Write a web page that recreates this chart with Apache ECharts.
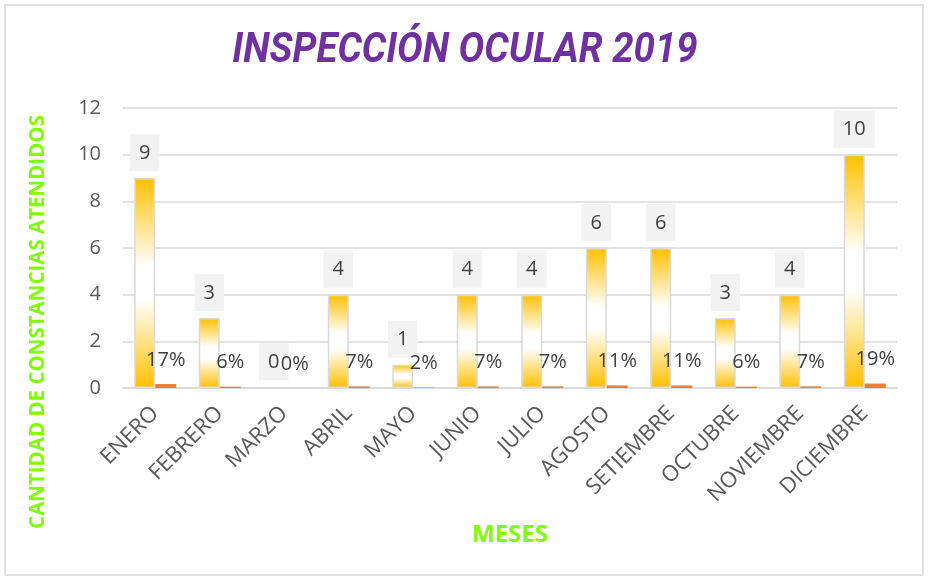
<!DOCTYPE html>
<html>
<head>
<meta charset="utf-8">
<script src="https://cdn.jsdelivr.net/npm/echarts@6/dist/echarts.min.js"></script>
<style>
  html, body { margin: 0; padding: 0; background: #fff; }
  #chart { width: 930px; height: 580px; }
</style>
</head>
<body>
<div id="chart"></div>
<script>
  var meses = ['ENERO', 'FEBRERO', 'MARZO', 'ABRIL', 'MAYO', 'JUNIO', 'JULIO',
    'AGOSTO', 'SETIEMBRE', 'OCTUBRE', 'NOVIEMBRE', 'DICIEMBRE'];
  var cantidad = [9, 3, 0, 4, 1, 4, 4, 6, 6, 3, 4, 10];
  var porcentaje = [0.17, 0.06, 0, 0.07, 0.02, 0.07, 0.07, 0.11, 0.11, 0.06, 0.07, 0.19];

  var chart = echarts.init(document.getElementById('chart'));
  chart.setOption({
    animation: false,
    textStyle: { fontFamily: 'Open Sans' },
    graphic: [
      {
        type: 'rect',
        shape: { x: 5, y: 5, width: 918, height: 570 },
        style: { fill: 'none', stroke: '#D9D9D9', lineWidth: 1.5 },
        silent: true
      },
      {
        // titulo comprimido para parecerse a Calibri
        type: 'text',
        x: 465,
        y: 51,
        scaleX: 0.915,
        style: {
          text: 'INSPECCIÓN OCULAR 2019',
          fill: '#7030A0',
          font: 'italic bold 42px Roboto',
          align: 'center',
          verticalAlign: 'middle'
        }
      },
      {
        type: 'text',
        x: 38,
        y: 322,
        rotation: Math.PI / 2,
        style: {
          text: 'CANTIDAD DE CONSTANCIAS ATENDIDOS',
          fill: '#7FFF00',
          font: 'bold 20.5px "Open Sans"',
          align: 'center',
          verticalAlign: 'middle'
        }
      }
    ],
    grid: { left: 123, right: 33, top: 108, bottom: 192 },
    xAxis: {
      type: 'category',
      data: meses,
      name: 'MESES',
      nameLocation: 'middle',
      nameGap: 135,
      nameTextStyle: { color: '#7FFF00', fontSize: 24, fontWeight: 'bold', fontFamily: 'Open Sans' },
      axisLine: { lineStyle: { color: '#D9D9D9', width: 1.5 } },
      axisTick: { show: false },
      axisLabel: {
        rotate: 45,
        interval: 0,
        color: '#595959',
        fontSize: 22,
        margin: 22
      }
    },
    yAxis: {
      type: 'value',
      min: 0,
      max: 12,
      interval: 2,
      axisLine: { show: false },
      axisTick: { show: false },
      axisLabel: { color: '#595959', fontSize: 20, margin: 22 },
      splitLine: { lineStyle: { color: '#D9D9D9', width: 1.5 } }
    },
    series: [
      {
        name: 'Cantidad',
        type: 'bar',
        data: cantidad,
        barWidth: 21,
        barGap: '0%',
        itemStyle: {
          color: new echarts.graphic.LinearGradient(0, 0, 0, 1, [
            { offset: 0, color: '#FFC000' },
            { offset: 0.42, color: '#FFFFFF' },
            { offset: 0.58, color: '#FFFFFF' },
            { offset: 1, color: '#FFC000' }
          ]),
          borderColor: '#D9D9D9',
          borderWidth: 1.5
        },
        label: {
          show: true,
          position: 'top',
          distance: 7,
          color: '#404040',
          fontSize: 20,
          backgroundColor: '#F2F2F2',
          padding: [9, 9, 8, 9]
        }
      },
      {
        name: 'Porcentaje',
        type: 'bar',
        data: porcentaje,
        barWidth: 21,
        barGap: '0%',
        itemStyle: { color: '#ED7D31' },
        label: {
          show: true,
          position: 'top',
          distance: 14,
          color: '#404040',
          fontSize: 20,
          formatter: function (p) { return Math.round(p.value * 100) + '%'; }
        }
      }
    ]
  });
</script>
</body>
</html>
